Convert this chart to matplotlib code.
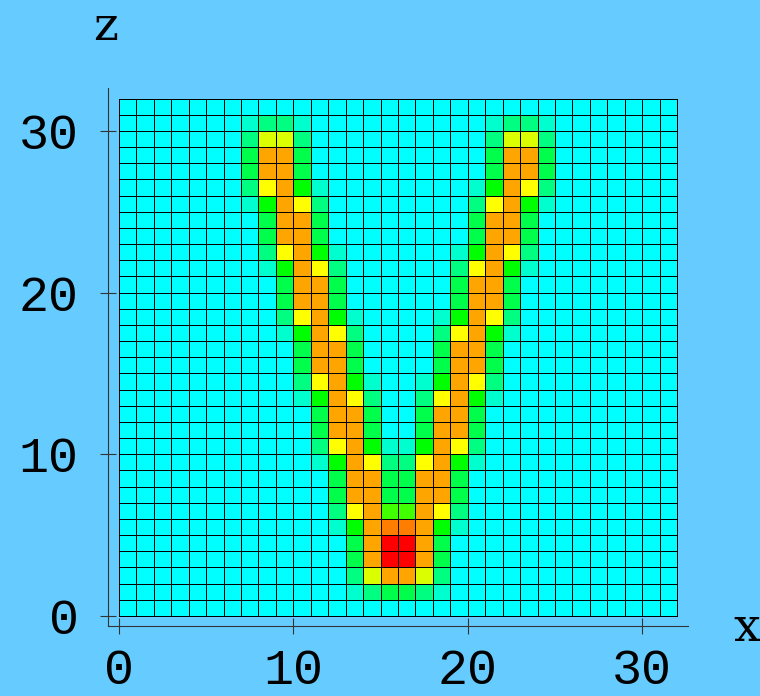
import numpy as np
import matplotlib
matplotlib.use("Agg")
import matplotlib.pyplot as plt
from matplotlib.colors import LinearSegmentedColormap

# field on a 32x32 grid, rows from top (z=31) down to z=0
# each char is a colour level, see level_values
rows = [
    "00000000000000000000000000000000",
    "00000001221000000000012210000000",
    "00000002662000000000026620000000",
    "00000003883000000000038830000000",
    "00000003883000000000038830000000",
    "00000002784100000000148720000000",
    "00000001487200000000278410000000",
    "00000000388300000000388300000000",
    "00000000388300000000388300000000",
    "00000000278410000001487200000000",
    "00000000148720000002784100000000",
    "00000000038830000003883000000000",
    "00000000038830000003883000000000",
    "00000000027841000014872000000000",
    "00000000014872000027841000000000",
    "00000000003883000038830000000000",
    "00000000003883000038830000000000",
    "00000000002784100148720000000000",
    "00000000001487200278410000000000",
    "00000000000388300388300000000000",
    "00000000000388300388300000000000",
    "00000000000278411487200000000000",
    "00000000000148722784100000000000",
    "00000000000038833883000000000000",
    "00000000000038833883000000000000",
    "00000000000027855872000000000000",
    "00000000000014899841000000000000",
    "000000000000038aa830000000000000",
    "000000000000038aa830000000000000",
    "00000000000002688620000000000000",
    "00000000000001233210000000000000",
    "00000000000000000000000000000000",
]

# value of each level (0 = cyan ... 1 = red)
level_values = {"0": 0.0, "1": 0.065, "2": 0.167, "3": 0.235, "4": 0.333,
                "5": 0.417, "6": 0.621, "7": 0.667, "8": 0.784, "9": 0.833,
                "a": 1.0}

x_ticks = [0, 10, 20, 30]
z_ticks = [0, 10, 20, 30]

field = np.array([[level_values[c] for c in r] for r in rows[::-1]])
ny, nx = field.shape

cmap = LinearSegmentedColormap.from_list(
    "cyan_red", ["#00ffff", "#00ff00", "#ffff00", "#ff0000"])

bg = "#66ccff"
font = "Liberation Mono"

fig = plt.figure(figsize=(7.6, 6.96), dpi=100, facecolor=bg)
ax = fig.add_axes([108 / 760, 70 / 696, 580 / 760, 538 / 696])
ax.set_facecolor(bg)

ax.pcolormesh(np.arange(nx + 1), np.arange(ny + 1), field, cmap=cmap,
              vmin=0, vmax=1, edgecolors="black", linewidth=0.6)

ax.set_xlim(-0.63, 32.63)
ax.set_ylim(-0.62, 32.65)

for s in ["top", "right"]:
    ax.spines[s].set_visible(False)
for s in ["left", "bottom"]:
    ax.spines[s].set_color("#333333")
    ax.spines[s].set_linewidth(0.8)

ax.set_xticks(x_ticks)
ax.set_yticks(z_ticks)
ax.tick_params(direction="inout", length=12, width=0.8, color="#333333",
               labelsize=36)
ax.tick_params(axis="x", pad=10)
ax.tick_params(axis="y", pad=15)
for lab in ax.get_xticklabels() + ax.get_yticklabels():
    lab.set_fontfamily(font)

fig.text(106 / 760, 1 - 27 / 696, "z", fontsize=34, family="DejaVu Serif",
         ha="center", va="center")
fig.text(747 / 760, 1 - 628 / 696, "x", fontsize=34, family="DejaVu Serif",
         ha="center", va="center")

fig.savefig("out.png", dpi=100, facecolor=bg)
